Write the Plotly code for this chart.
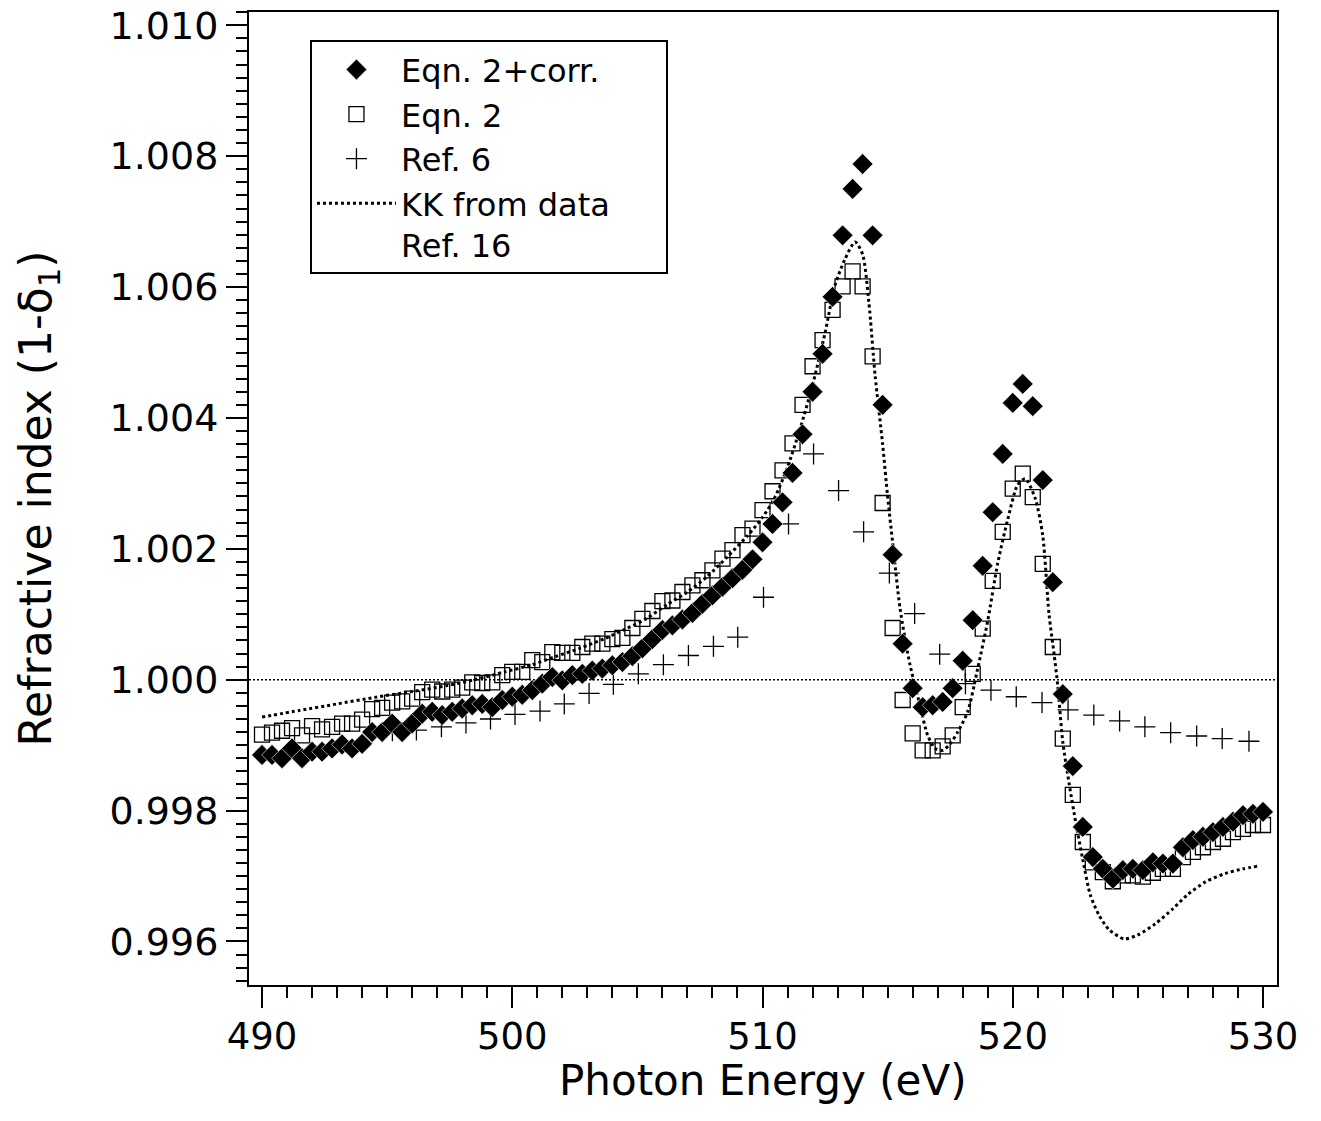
import plotly.graph_objects as go

# photon energy grid of the two "Eqn. 2" series (eV)
energy = [
    490.0, 490.4, 490.8, 491.2, 491.6, 492.0, 492.4, 492.8, 493.2, 493.6,
    494.0, 494.4, 494.8, 495.2, 495.6, 496.0, 496.4, 496.8, 497.2, 497.6,
    498.0, 498.4, 498.8, 499.2, 499.6, 500.0, 500.4, 500.8, 501.2, 501.6,
    502.0, 502.4, 502.8, 503.2, 503.6, 504.0, 504.4, 504.8, 505.2, 505.6,
    506.0, 506.4, 506.8, 507.2, 507.6, 508.0, 508.4, 508.8, 509.2, 509.6,
    510.0, 510.4, 510.8, 511.2, 511.6, 512.0, 512.4, 512.8, 513.2, 513.6,
    514.0, 514.4, 514.8, 515.2, 515.6, 516.0, 516.4, 516.8, 517.2, 517.6,
    518.0, 518.4, 518.8, 519.2, 519.6, 520.0, 520.4, 520.8, 521.2, 521.6,
    522.0, 522.4, 522.8, 523.2, 523.6, 524.0, 524.4, 524.8, 525.2, 525.6,
    526.0, 526.4, 526.8, 527.2, 527.6, 528.0, 528.4, 528.8, 529.2, 529.6,
    530.0,
]

# Eqn. 2 + corr. (filled diamonds)
eqn2_corr = [
    0.99885, 0.99885, 0.99880, 0.99895, 0.99880, 0.99890, 0.99890, 0.99895, 0.99901, 0.99895,
    0.99902, 0.99920, 0.99920, 0.99933, 0.99920, 0.99933, 0.99948, 0.99951, 0.99946, 0.99951,
    0.99956, 0.99961, 0.99963, 0.99958, 0.99969, 0.99974, 0.99977, 0.99984, 0.99994, 1.00004,
    0.99999, 1.00007, 1.00009, 1.00014, 1.00017, 1.00022, 1.00027, 1.00036, 1.00048, 1.00062,
    1.00076, 1.00083, 1.00092, 1.00102, 1.00116, 1.00129, 1.00142, 1.00155, 1.00168, 1.00184,
    1.00210, 1.00238, 1.00271, 1.00316, 1.00375, 1.00440, 1.00498, 1.00585, 1.00679, 1.00750,
    1.00788, 1.00679, 1.00420, 1.00191, 1.00055, 0.99987, 0.99958, 0.99961, 0.99966, 0.99987,
    1.00029, 1.00091, 1.00174, 1.00256, 1.00345, 1.00423, 1.00452, 1.00418, 1.00305, 1.00149,
    0.99978, 0.99868, 0.99775, 0.99729, 0.99711, 0.99696, 0.99709, 0.99711, 0.99709, 0.99721,
    0.99719, 0.99719, 0.99744, 0.99755, 0.99760, 0.99767, 0.99775, 0.99783, 0.99793, 0.99795,
    0.99798,
]

# Eqn. 2 (open squares)
eqn2 = [
    0.99916, 0.99919, 0.99922, 0.99926, 0.99915, 0.99929, 0.99924, 0.99928, 0.99933, 0.99933,
    0.99939, 0.99955, 0.99957, 0.99965, 0.99967, 0.99971, 0.99981, 0.99985, 0.99982, 0.99985,
    0.99988, 0.99996, 0.99995, 0.99996, 1.00007, 1.00012, 1.00012, 1.00030, 1.00027, 1.00042,
    1.00041, 1.00041, 1.00050, 1.00055, 1.00055, 1.00062, 1.00064, 1.00079, 1.00093, 1.00105,
    1.00120, 1.00121, 1.00134, 1.00144, 1.00152, 1.00167, 1.00185, 1.00198, 1.00221, 1.00231,
    1.00259, 1.00288, 1.00320, 1.00361, 1.00420, 1.00479, 1.00519, 1.00565, 1.00601, 1.00624,
    1.00601, 1.00494, 1.00270, 1.00079, 0.99969, 0.99918, 0.99892, 0.99892, 0.99898, 0.99915,
    0.99958, 1.00009, 1.00078, 1.00151, 1.00226, 1.00292, 1.00315, 1.00279, 1.00177, 1.00050,
    0.99910, 0.99824, 0.99752, 0.99721, 0.99706, 0.99692, 0.99701, 0.99701, 0.99699, 0.99705,
    0.99711, 0.99711, 0.99729, 0.99737, 0.99744, 0.99752, 0.99757, 0.99767, 0.99772, 0.99778,
    0.99778,
]

# Ref. 6 (crosses)
ref6_energy = [
    495.21, 496.17, 497.17, 498.15, 499.13, 500.11, 501.11, 502.08, 503.07, 504.04,
    505.04, 506.04, 507.04, 508.04, 509.01, 510.04, 511.04, 512.04, 513.04, 514.04,
    515.07, 516.08, 517.08, 518.11, 519.13, 520.14, 521.17, 522.21, 523.24, 524.27,
    525.28, 526.31, 527.35, 528.37, 529.44,
]
ref6 = [
    0.99922, 0.99923, 0.99928, 0.99934, 0.99940, 0.99947, 0.99952, 0.99963, 0.99979, 0.99993,
    1.00009, 1.00023, 1.00037, 1.00051, 1.00065, 1.00126, 1.00238, 1.00345, 1.00289, 1.00226,
    1.00163, 1.00101, 1.00039, 0.99994, 0.99984, 0.99974, 0.99965, 0.99954, 0.99946, 0.99937,
    0.99928, 0.99919, 0.99914, 0.99910, 0.99906,
]

# KK from data, Ref. 16 (dotted curve)
kk_energy = [
    490.0, 491.5, 493.0, 494.5, 496.0, 497.4, 498.5, 499.7, 500.8, 501.7,
    502.7, 503.7, 504.5, 505.3, 506.2, 507.0, 507.8, 508.6, 509.4, 510.0,
    510.5, 511.0, 511.5, 512.0, 512.5, 512.9, 513.3, 513.7, 514.0, 514.25,
    514.5, 514.8, 515.0, 515.2, 515.5, 515.9, 516.3, 516.6, 516.9, 517.2,
    517.5, 517.8, 518.2, 518.6, 519.0, 519.4, 519.8, 520.2, 520.5, 520.9,
    521.2, 521.45, 521.65, 521.8, 522.0, 522.25, 522.55, 522.8, 523.1, 523.45,
    523.85, 524.45, 525.0, 525.7, 526.4, 527.0, 527.7, 528.5, 529.2, 529.8,
]
kk = [
    0.99943, 0.99953, 0.99963, 0.99973, 0.99982, 0.99991, 1.00000, 1.00012, 1.00023, 1.00035,
    1.00048, 1.00063, 1.00077, 1.00092, 1.00115, 1.00134, 1.00158, 1.00188, 1.00220, 1.00248,
    1.00279, 1.00325, 1.00383, 1.00450, 1.00530, 1.00603, 1.00643, 1.00669, 1.00650, 1.00577,
    1.00465, 1.00360, 1.00280, 1.00210, 1.00108, 1.00022, 0.99960, 0.99915, 0.99895, 0.99892,
    0.99902, 0.99920, 0.99951, 1.00017, 1.00090, 1.00178, 1.00245, 1.00298, 1.00307, 1.00277,
    1.00220, 1.00100, 1.00040, 0.99990, 0.99905, 0.99842, 0.99775, 0.99725, 0.99671, 0.99640,
    0.99618, 0.99604, 0.99610, 0.99627, 0.99650, 0.99672, 0.99691, 0.99704, 0.99711, 0.99715,
]

FONT = "DejaVu Sans"
NB = "\u00a0"  # non-breaking space, pads the legend box to the right

fig = go.Figure()

fig.add_trace(go.Scatter(
    x=energy, y=eqn2, mode="markers", name="Eqn. 2", legendrank=2,
    marker=dict(symbol="square-open", size=15, color="black", line=dict(width=1.3, color="black")),
))
fig.add_trace(go.Scatter(
    x=ref6_energy, y=ref6, mode="markers", name="Ref. 6", legendrank=3,
    marker=dict(symbol="cross-thin-open", size=15, color="black", line=dict(width=1.3, color="black")),
))
fig.add_trace(go.Scatter(
    x=kk_energy, y=kk, mode="lines", name="KK from data<br>Ref. 16", legendrank=4,
    line=dict(color="black", width=3, dash="dot", shape="spline", smoothing=0.7),
))
fig.add_trace(go.Scatter(
    x=energy, y=eqn2_corr, mode="markers", name="Eqn. 2+corr." + NB * 6, legendrank=1,
    marker=dict(symbol="diamond", size=16, color="black", line=dict(width=0.6, color="white")),
))

# reference line at n = 1
fig.add_hline(y=1.0, line=dict(color="black", width=1.5, dash="2px,2px"))

xr = [489.48, 530.56]
yr = [0.995335, 1.010203]

# x-axis title as an annotation so it can sit closer to the tick labels
fig.add_annotation(
    text="Photon Energy (eV)", xref="paper", yref="paper", x=0.5, y=-0.098,
    xanchor="center", yanchor="middle", showarrow=False, font=dict(family=FONT, size=42),
)

# the page body adds an 8 px offset, so the figure is a bit smaller than the window
fig.update_layout(
    width=1305, height=1105,
    margin=dict(l=241, r=36, t=4, b=128),
    paper_bgcolor="white", plot_bgcolor="white",
    font=dict(family=FONT, size=38, color="black"),
    showlegend=True,
    legend=dict(
        x=0.0593, y=0.971, xanchor="left", yanchor="top",
        bgcolor="white", bordercolor="black", borderwidth=2,
        font=dict(family=FONT, size=32), itemwidth=79, valign="top",
        tracegroupgap=0,
    ),
    xaxis=dict(
        range=xr, dtick=10, tick0=490, ticks="outside", ticklen=21, tickwidth=2,
        tickcolor="black", showline=True, linewidth=2, linecolor="black", mirror=True,
        showgrid=False, zeroline=False, ticklabeloverflow="allow", automargin=False,
        ticklabelstandoff=-3,
        minor=dict(dtick=1, ticks="outside", ticklen=11, tickwidth=2, tickcolor="black"),
        tickfont=dict(size=37),
    ),
    yaxis=dict(
        range=yr, dtick=0.002, tick0=1.0, tickformat=".3f", ticks="outside", ticklen=21,
        tickwidth=2, tickcolor="black", showline=True, linewidth=2, linecolor="black",
        mirror=True, showgrid=False, zeroline=False, ticklabeloverflow="allow", automargin=False,
        minor=dict(dtick=0.0002, ticks="outside", ticklen=11, tickwidth=2, tickcolor="black"),
        title=dict(text="Refractive index (1-δ<sub>1</sub>)", font=dict(size=44), standoff=44),
        tickfont=dict(size=38),
    ),
    # medium-length ticks at the half decades
    xaxis2=dict(
        overlaying="x", anchor="y", side="bottom", range=xr, automargin=False,
        tickvals=[495, 505, 515, 525], ticks="outside", ticklen=16, tickwidth=2,
        tickcolor="black", showticklabels=False, showline=False, showgrid=False, zeroline=False,
    ),
    yaxis2=dict(
        overlaying="y", anchor="x", side="left", range=yr, automargin=False,
        tickvals=[0.997, 0.999, 1.001, 1.003, 1.005, 1.007, 1.009], ticks="outside",
        ticklen=16, tickwidth=2, tickcolor="black", showticklabels=False, showline=False,
        showgrid=False, zeroline=False,
    ),
)

fig.write_html("out.html")
